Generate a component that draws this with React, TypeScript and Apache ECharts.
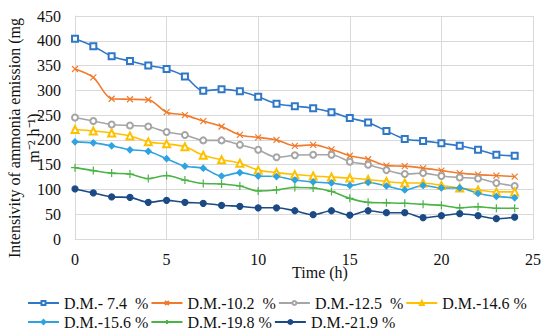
import React, { useEffect, useRef } from "react";
import * as echarts from "echarts";

const hours = [0, 1, 2, 3, 4, 5, 6, 7, 8, 9, 10, 11, 12, 13, 14, 15, 16, 17, 18, 19, 20, 21, 22, 23, 24];
const dm74 = [404, 389, 369, 359, 350, 343, 328, 299, 302, 298, 287, 273, 268, 264, 256, 244, 235, 218, 202, 198, 193, 188, 180, 170, 168];
const dm102 = [343, 326, 283, 282, 281, 256, 250, 238, 227, 210, 205, 200, 188, 190, 181, 168, 161, 148, 147, 143, 138, 133, 130, 128, 126];
const dm125 = [245, 238, 231, 229, 227, 216, 210, 199, 199, 190, 180, 165, 169, 170, 170, 156, 150, 139, 131, 133, 127, 124, 122, 113, 107];
const dm146 = [221, 218, 214, 208, 196, 192, 186, 169, 160, 153, 139, 134, 130, 127, 125, 123, 120, 116, 113, 113, 108, 103, 99, 95, 95];
const dm156 = [196, 194, 188, 180, 177, 162, 147, 143, 127, 134, 127, 126, 119, 115, 113, 108, 114, 107, 99, 108, 103, 103, 92, 86, 83];
const dm198 = [144, 138, 133, 131, 122, 128, 119, 112, 111, 107, 97, 99, 104, 103, 96, 82, 74, 73, 72, 70, 68, 63, 65, 62, 62];
const dm219 = [101, 93, 85, 84, 74, 78, 74, 72, 68, 66, 63, 63, 57, 49, 57, 48, 57, 53, 53, 43, 47, 51, 47, 41, 44];

const seriesNames = ["D.M.- 7.4  %", "D.M.-10.2  %", "D.M.-12.5  %", "D.M.-14.6 %", "D.M.-15.6 %", "D.M.-19.8 %", "D.M.-21.9 %"];
const seriesData = [dm74, dm102, dm125, dm146, dm156, dm198, dm219];
const colors = ["#2f78c8", "#f07b2c", "#a5a5a5", "#ffc000", "#2ea3e2", "#4bb447", "#1b4a85"];

const FONT = "'Liberation Serif', 'Times New Roman', serif";

export default function App() {
  const ref = useRef<HTMLDivElement>(null);
  useEffect(() => {
    if (!ref.current) return;
    const chart = echarts.init(ref.current, undefined, { renderer: "svg" });
    const symbolDefs: any[] = [
      { symbol: "emptyRect", size: 6 },
      { symbol: "path://M0,0L10,10M10,0L0,10", size: 6 },
      { symbol: "emptyCircle", size: 6 },
      { symbol: "emptyTriangle", size: 7 },
      { symbol: "diamond", size: 6 },
      { symbol: "path://M5,0L5,10M0,5L10,5", size: 8 },
      { symbol: "circle", size: 6 },
    ];
    const series = seriesNames.map((name, i) => ({
      name,
      type: "line",
      smooth: 0.3,
      data: hours.map((h, j) => [h, seriesData[i][j]]),
      symbol: symbolDefs[i].symbol,
      symbolSize: symbolDefs[i].size,
      showSymbol: true,
      lineStyle: { color: colors[i], width: 1.6 },
      itemStyle: {
        color: colors[i],
        borderColor: colors[i],
        borderWidth: 1.2,
      },
      emphasis: { disabled: true },
    }));
    const legendBase = {
      left: 27,
      orient: "horizontal",
      padding: 0,
      itemWidth: 31,
      itemHeight: 5,
      itemGap: 2,
      textStyle: { fontFamily: FONT, fontSize: 16, color: "#111", width: 91 },
      selectedMode: false,
    };
    chart.setOption({
      animation: false,
      color: colors,
      textStyle: { fontFamily: FONT },
      grid: { left: 75, right: 17, top: 16, bottom: 94, containLabel: false },
      xAxis: {
        type: "value",
        min: 0,
        max: 25,
        interval: 5,
        axisLine: { show: true, lineStyle: { color: "#d9d9d9", width: 1 } },
        axisTick: { show: false },
        splitLine: { show: true, lineStyle: { color: "#d9d9d9", width: 1 } },
        axisLabel: { fontFamily: FONT, fontSize: 16, color: "#111", margin: 12 },
      },
      yAxis: {
        type: "value",
        min: 0,
        max: 450,
        interval: 50,
        axisLine: { show: true, lineStyle: { color: "#d9d9d9", width: 1 } },
        axisTick: { show: false },
        splitLine: { show: true, lineStyle: { color: "#d9d9d9", width: 1 } },
        axisLabel: { fontFamily: FONT, fontSize: 16, color: "#111", margin: 14 },
      },
      legend: [
        { ...legendBase, top: 295, data: seriesNames.slice(0, 4) },
        { ...legendBase, top: 314, data: seriesNames.slice(4) },
      ],
      graphic: [
        {
          type: "text",
          x: 24,
          y: 138,
          rotation: Math.PI / 2,
          style: {
            text: "Intensivity of ammonia emission (mg\nm\u207B\u00B2 h\u207B\u00B9)",
            font: `16px ${FONT}`,
            fill: "#111",
            align: "center",
            verticalAlign: "middle",
            lineHeight: 19,
          },
        },
        {
          type: "text",
          x: 320,
          y: 272,
          style: {
            text: "Time (h)",
            font: `16px ${FONT}`,
            fill: "#111",
            align: "center",
            verticalAlign: "middle",
          },
        },
      ],
      series,
    });
    return () => chart.dispose();
  }, []);
  return <div ref={ref} style={{ width: 550, height: 333, position: "absolute", left: 0, top: 0 }} />;
}
